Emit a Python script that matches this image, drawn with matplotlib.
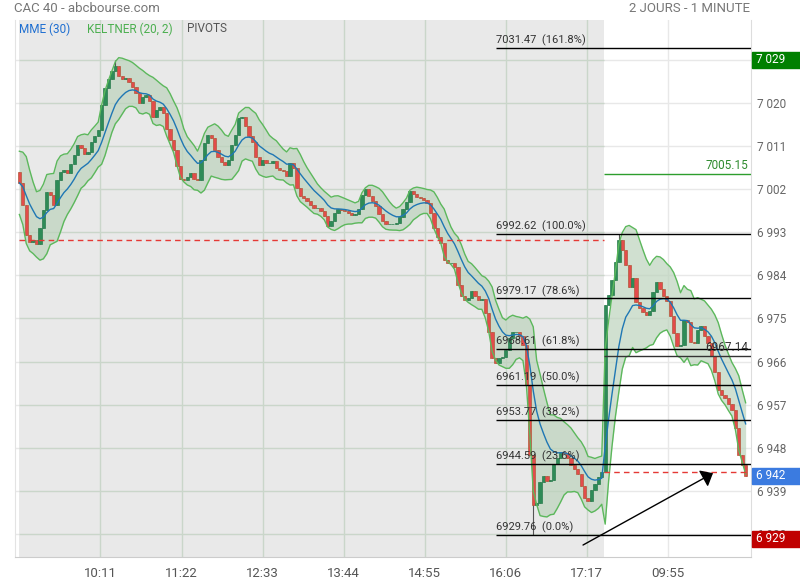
import numpy as np
import pandas as pd
import matplotlib
matplotlib.use('Agg')
import matplotlib.pyplot as plt
from matplotlib import font_manager, transforms
from matplotlib.patches import Rectangle

#%% Datos (bougies de 3 minutes)

day1_open = 7005.5
day1_close = [7003.3, 6998.7, 6992.4, 6991.0, 6991.4, 6990.5, 6993.9, 6997.6, 7001.4, 7000.8,
              6998.7, 7003.9, 7005.6, 7006.0, 7005.4, 7007.2, 7009.1, 7011.2, 7010.6, 7009.3,
              7009.7, 7011.8, 7013.1, 7014.3, 7019.6, 7023.1, 7025.0, 7026.7, 7027.7, 7025.6,
              7025.0, 7025.2, 7024.4, 7023.3, 7022.1, 7020.0, 7021.2, 7021.6, 7020.4, 7017.1,
              7018.5, 7019.1, 7017.9, 7014.5, 7012.2, 7010.2, 7006.8, 7004.1, 7003.9, 7004.5,
              7005.4, 7004.1, 7003.9, 7008.1, 7011.6, 7013.3, 7012.7, 7010.2, 7008.7, 7007.6,
              7007.0, 7008.1, 7011.2, 7013.3, 7016.8, 7017.1, 7015.2, 7013.1, 7011.8, 7008.7,
              7007.0, 7008.1, 7007.4, 7007.4, 7007.9, 7006.4, 7006.0, 7005.8, 7004.7, 7007.4,
              7006.4, 7002.2, 7000.6, 7000.1, 6999.5, 6998.7, 6998.0, 6998.0, 6997.4, 6996.4,
              6994.3, 6995.3, 6997.0, 6997.8, 6997.6, 6997.4, 6997.0, 6996.6, 6996.8, 6997.8,
              7000.8, 7002.0, 7000.6, 6999.5, 6998.5, 6996.8, 6995.3, 6994.7, 6994.7, 6994.7,
              6994.9, 6996.2, 6997.8, 6999.3, 7001.6, 7001.0, 7000.3, 7000.1, 6999.7, 6999.1,
              6997.0, 6993.9, 6992.0, 6990.7, 6987.2, 6986.6, 6986.6, 6985.7, 6982.0, 6979.7,
              6978.8, 6979.3, 6980.7, 6979.7, 6978.8, 6979.1, 6976.1, 6972.2, 6966.7, 6965.7,
              6966.7, 6966.9, 6968.4, 6970.9, 6972.2, 6972.2, 6971.3, 6969.4, 6961.1, 6946.5,
              6936.0, 6936.5, 6940.8, 6942.1, 6941.1, 6941.3, 6944.6, 6945.9, 6947.1, 6946.9,
              6945.9, 6944.4, 6943.6, 6942.5, 6940.0, 6937.5, 6936.9, 6939.2, 6940.4, 6941.9,
              6942.9]
day2_close = [6977.8, 6979.9, 6983.0, 6986.8, 6991.4, 6989.3, 6986.1, 6981.6, 6983.4, 6978.4,
              6977.2, 6976.3, 6975.7, 6976.5, 6980.5, 6982.6, 6981.1, 6979.7, 6978.6, 6975.5,
              6971.9, 6969.2, 6969.4, 6974.7, 6974.2, 6970.1, 6969.9, 6972.6, 6973.4, 6971.3,
              6969.9, 6967.2, 6963.8, 6960.1, 6959.0, 6958.4, 6957.1, 6955.9, 6952.1, 6946.5,
              6944.4, 6942.2]

# meches notables (indice de bougie, valeur)
wick_idx = [28, 175, 150]
wick_val = [7029.0, 6992.62, 6929.76]

prev_close = 6991.4  # cloture de la veille (pointilles rouges)

fib_levels = [7031.47, 6992.62, 6979.17, 6968.61, 6961.19, 6953.77, 6944.59, 6929.76]
fib_pcts = ['161.8%', '100.0%', '78.6%', '61.8%', '50.0%', '38.2%', '23.6%', '0.0%']

pivot_hi = 7005.15
pivot_lo = 6967.14

x_labels = ['10:11', '11:22', '12:33', '13:44', '14:55', '16:06', '17:17', '09:55']
y_ticks = list(range(6930, 7030, 9))

arrow_tail = (493.6, 6927.7)
arrow_tip = (607.4, 6942.7)

#%% Parametres

step = 3          # minutes par bougie
day1_len = 513    # minutes de la premiere seance
tick_every = 71
mme_span = 10     # 30 min
kc_span = 7       # 20 min
atr_span = 14
kc_mult = 3.0

def has_font(name):
    try:
        font_manager.findfont(name, fallback_to_default=False)
        return True
    except Exception:
        return False

narrow = 'Liberation Sans Narrow' if has_font('Liberation Sans Narrow') else 'Roboto'
plt.rcParams['font.family'] = ['Roboto', 'DejaVu Sans']

#%% Series

m = np.r_[np.arange(len(day1_close)) * step, day1_len + np.arange(len(day2_close)) * step]
c = np.array(day1_close + day2_close)
o = np.r_[day1_open, c[:-1]]
h = np.maximum(o, c)
l = np.minimum(o, c)
for i, v in zip(wick_idx, wick_val):
    if v > h[i]:
        h[i] = v
    else:
        l[i] = v

cs = pd.Series(c)
mme = cs.ewm(span=mme_span, adjust=False).mean()
kc_mid = cs.ewm(span=kc_span, adjust=False).mean()
tr = pd.Series(h - l)
atr = tr.ewm(span=atr_span, adjust=False).mean()
kc_up = kc_mid + kc_mult * atr
kc_dn = kc_mid - kc_mult * atr

#%% Figure

W, H = 800, 580
fig = plt.figure(figsize=(W / 100, H / 100), dpi=100)
ax = fig.add_axes([15 / W, (H - 557) / H, (751 - 15) / W, (557 - 20) / H])
ax.set_facecolor('white')
x_lo, x_hi = -3.85, 640.7
ax.set_xlim(x_lo, x_hi)
ax.set_ylim(6925.2, 7037.3)

ax.axvspan(-0.5, day1_len - 1, color='#e9e9e9', zorder=0, lw=0)

xt = [tick_every * (i + 1) for i in range(len(x_labels))]
for v in y_ticks:
    ax.hlines(v, x_lo, x_hi, colors='#e8e8e8', lw=1, zorder=0.5)
    ax.hlines(v, -0.5, day1_len - 1, colors='#cad6ca', lw=1, zorder=0.6)
for x in xt:
    col = '#cad6ca' if x < day1_len else '#e8e8e8'
    ax.axvline(x, color=col, lw=1, zorder=0.6)

# keltner
ax.fill_between(m, kc_dn, kc_up, color='#bcd3bc', alpha=0.7, lw=0, zorder=1)
ax.plot(m, kc_up, color='#5cb85c', lw=1, zorder=4)
ax.plot(m, kc_dn, color='#5cb85c', lw=1, zorder=4)

# bougies
up = c >= o
body_col = np.where(up, '#2e8b57', '#e34b4b')
edge_col = np.where(up, '#2a7d4e', '#b35a3a')
ax.vlines(m, l, h, colors='#555555', lw=0.8, zorder=2.9)
ax.bar(m, c - o, bottom=o, width=2.9, color=body_col, edgecolor=edge_col, linewidth=0.5, zorder=3)

ax.plot(m, mme, color='#1f77b4', lw=1, zorder=4)

# cloture precedente
ax.hlines(prev_close, -0.5, day1_len - 1, colors='#e53935', linestyles=(0, (4, 3)), lw=1, zorder=5)
ax.hlines(day1_close[-1], day1_len - 1, m[-1], colors='#e53935', linestyles=(0, (4, 3)), lw=1, zorder=5)

# retracements de fibonacci
fib_x0 = 417.4
for v, p in zip(fib_levels, fib_pcts):
    ax.hlines(v, fib_x0, x_hi, colors='black', lw=1, zorder=6)
    ax.text(fib_x0, v + 0.35, '{:.2f}  ({})'.format(v, p), family=[narrow, 'DejaVu Sans'],
            fontsize=8, color='#333333', va='bottom', ha='left', zorder=6)

# pivots
ax.hlines(pivot_hi, day1_len - 1, x_hi, colors='#2e9e2e', lw=1, zorder=6)
ax.text(x_hi - 2.5, pivot_hi + 0.4, '{:.2f}'.format(pivot_hi), family=[narrow, 'DejaVu Sans'],
        fontsize=8.5, color='#2e8b2e', ha='right', va='bottom', zorder=6)
ax.hlines(pivot_lo, day1_len - 1, x_hi, colors='#333333', lw=1, zorder=6)
ax.text(x_hi - 2.5, pivot_lo + 0.4, '{:.2f}'.format(pivot_lo), family=[narrow, 'DejaVu Sans'],
        fontsize=8.5, color='#333333', ha='right', va='bottom', zorder=6)

ax.annotate('', xy=arrow_tip, xytext=arrow_tail,
            arrowprops=dict(arrowstyle='-|>,head_length=0.45,head_width=0.38', color='black',
                            lw=1, mutation_scale=15, shrinkA=0, shrinkB=0), zorder=7)

# axes
ax.set_xticks(xt)
ax.set_xticklabels(x_labels, family=[narrow, 'DejaVu Sans'], fontsize=9.5, color='#555555')
ax.yaxis.tick_right()
ax.set_yticks(y_ticks)
ax.set_yticklabels(['{:,}'.format(v).replace(',', ' ') for v in y_ticks], fontsize=8.5, color='#666666')
ax.tick_params(axis='x', length=0, pad=7)
ax.tick_params(axis='y', length=0, pad=4)
ax.spines['top'].set_visible(False)
ax.spines['left'].set_color('#e3e3e3')
ax.spines['right'].set_color('#dddddd')
ax.spines['bottom'].set_color('#cccccc')

# etiquettes de prix
blend = transforms.blended_transform_factory(fig.transFigure, ax.transData)
box_h = 16 / 4.79
tags = [(h.max(), '#008000'), (c[-1], '#3b7be0'), (np.floor(l.min()), '#c00000')]
for v, col in tags:
    ax.add_patch(Rectangle((752 / W, v - box_h / 2), 48 / W, box_h, transform=blend,
                           color=col, clip_on=False, zorder=10))
    ax.text(756 / W, v, '{:,}'.format(int(v)).replace(',', ' '), transform=blend, color='white',
            fontsize=8.5, va='center', ha='left', clip_on=False, zorder=11)

# en-tete et legende
fig.text(14 / W, 1 - 9 / H, 'CAC 40 - abcbourse.com', fontsize=9.5, color='#777777', va='center')
fig.text(750 / W, 1 - 9 / H, '2 JOURS - 1 MINUTE', fontsize=9.5, color='#777777', va='center', ha='right')
fig.text(19 / W, 1 - 29 / H, 'MME (30)', fontsize=8.5, color='#1f6fd1', va='center')
fig.text(87 / W, 1 - 29 / H, 'KELTNER (20, 2)', fontsize=8.5, color='#4caf50', va='center')
fig.text(187 / W, 1 - 29 / H, 'PIVOTS', fontsize=8.5, color='#555555', va='center')

fig.savefig('out.png', dpi=100)
